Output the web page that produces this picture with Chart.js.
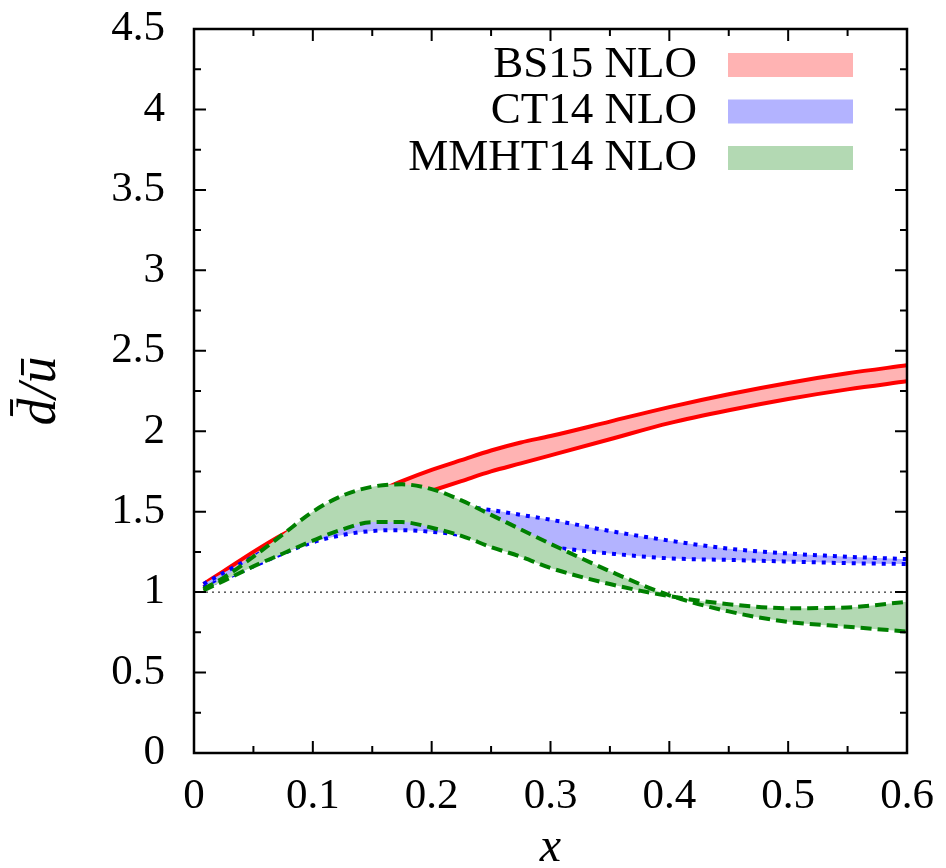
<!DOCTYPE html>
<html>
<head>
<meta charset="utf-8">
<script src="https://cdn.jsdelivr.net/npm/chart.js@4.4.1/dist/chart.umd.min.js"></script>
<style>
  body { margin: 0; background: #fff; }
  #wrap { width: 946px; height: 868px; }
</style>
</head>
<body>
<div id="wrap"><canvas id="ratio"></canvas></div>
<script>
// x grid shared by all bands
const xs = [0.008, 0.025, 0.05, 0.075, 0.1, 0.125, 0.15, 0.175, 0.2, 0.225, 0.25, 0.275, 0.3, 0.35, 0.4, 0.45, 0.5, 0.55, 0.6];

// BS15 NLO band
const bsHi = [1.05, 1.13, 1.25, 1.36, 1.45, 1.53, 1.61, 1.69, 1.76, 1.82, 1.88, 1.93, 1.97, 2.06, 2.15, 2.23, 2.30, 2.36, 2.41];
const bsLo = [1.03, 1.10, 1.19, 1.28, 1.36, 1.43, 1.50, 1.57, 1.63, 1.69, 1.75, 1.80, 1.85, 1.95, 2.05, 2.13, 2.20, 2.26, 2.31];

// CT14 NLO band
const ctHi = [1.05, 1.12, 1.22, 1.32, 1.40, 1.46, 1.51, 1.54, 1.55, 1.535, 1.51, 1.48, 1.45, 1.38, 1.32, 1.27, 1.24, 1.22, 1.205];
const ctLo = [1.03, 1.08, 1.16, 1.24, 1.31, 1.355, 1.38, 1.385, 1.375, 1.355, 1.33, 1.305, 1.28, 1.24, 1.21, 1.20, 1.19, 1.18, 1.175];

// MMHT14 NLO band (the two edges cross near x = 0.41)
const mmA = [1.02, 1.09, 1.22, 1.36, 1.50, 1.60, 1.655, 1.67, 1.64, 1.57, 1.48, 1.39, 1.30, 1.13, 0.98, 0.88, 0.815, 0.785, 0.755];
const mmB = [1.01, 1.07, 1.16, 1.24, 1.32, 1.39, 1.435, 1.435, 1.40, 1.35, 1.28, 1.22, 1.15, 1.05, 0.975, 0.925, 0.90, 0.905, 0.94];

// reference line d/u = 1
const unityX = [0, 0.6];
const unityY = [1, 1];

const legendLabels = ['BS15 NLO', 'CT14 NLO', 'MMHT14 NLO'];
const legendColors = ['#ffb3b3', '#b3b3ff', '#b3d9b3'];

const xTickValues = [0, 0.1, 0.2, 0.3, 0.4, 0.5, 0.6];
const yTickValues = [0, 0.5, 1, 1.5, 2, 2.5, 3, 3.5, 4, 4.5];

const FONT = "'Liberation Serif', 'DejaVu Serif', serif";

function pts(xv, yv) {
  return xv.map((x, i) => ({ x: x, y: yv[i] }));
}

function edge(yv, color, dash, fill) {
  return {
    data: pts(xs, yv),
    borderColor: color,
    borderWidth: 4,
    borderDash: dash,
    borderCapStyle: 'butt',
    pointRadius: 0,
    cubicInterpolationMode: 'monotone',
    fill: fill ? '-1' : false,
    backgroundColor: fill || 'transparent'
  };
}

// inward ticks on all four sides + frame + legend
const frameTicks = {
  id: 'frameTicks',
  afterDatasetsDraw(chart) {
    const { ctx, chartArea: a, scales: { x, y } } = chart;
    ctx.save();
    ctx.strokeStyle = '#000';
    ctx.lineWidth = 2;
    ctx.beginPath();
    for (let i = 0; i <= 12; i++) {
      const px = x.getPixelForValue(i * 0.05);
      const len = i % 2 === 0 ? 12 : 7;
      ctx.moveTo(px, a.bottom); ctx.lineTo(px, a.bottom - len);
      ctx.moveTo(px, a.top); ctx.lineTo(px, a.top + len);
    }
    for (let i = 0; i <= 18; i++) {
      const py = y.getPixelForValue(i * 0.25);
      const len = i % 2 === 0 ? 12 : 7;
      ctx.moveTo(a.left, py); ctx.lineTo(a.left + len, py);
      ctx.moveTo(a.right, py); ctx.lineTo(a.right - len, py);
    }
    ctx.stroke();
    ctx.lineWidth = 2.5;
    ctx.strokeRect(a.left, a.top, a.right - a.left, a.bottom - a.top);

    // legend
    ctx.font = '45px ' + FONT;
    ctx.textAlign = 'right';
    ctx.textBaseline = 'middle';
    legendLabels.forEach((lab, i) => {
      const cy = 65 + i * 46.5;
      ctx.fillStyle = '#000';
      ctx.fillText(lab, 697, cy);
      ctx.fillStyle = legendColors[i];
      ctx.fillRect(728, cy - 12, 125, 24);
    });
    ctx.restore();
  }
};

new Chart(document.getElementById('ratio'), {
  type: 'line',
  data: {
    datasets: [
      edge(mmA, '#008000', [11, 6], null),
      edge(mmB, '#008000', [11, 6], legendColors[2]),
      edge(ctHi, '#0000ff', [4, 6], null),
      edge(ctLo, '#0000ff', [4, 6], legendColors[1]),
      edge(bsHi, '#ff0000', [], null),
      edge(bsLo, '#ff0000', [], legendColors[0]),
      {
        data: pts(unityX, unityY),
        borderColor: '#000',
        borderWidth: 1,
        borderDash: [2, 4],
        pointRadius: 0,
        fill: false
      }
    ]
  },
  options: {
    responsive: true,
    maintainAspectRatio: false,
    animation: false,
    layout: { padding: { left: 0, right: 39, top: 29, bottom: 0 } },
    plugins: {
      legend: { display: false },
      tooltip: { enabled: false }
    },
    scales: {
      x: {
        type: 'linear',
        min: 0,
        max: 0.6,
        afterBuildTicks: s => { s.ticks = xTickValues.map(v => ({ value: v })); },
        afterFit: s => { s.height = 115; s.paddingLeft = 0; s.paddingRight = 0; },
        grid: { display: false, drawTicks: false },
        border: { display: false },
        ticks: { color: '#000', font: { family: FONT, size: 43 }, padding: 18, maxRotation: 0,
                 callback: v => String(v) },
        title: {
          display: true,
          text: 'x',
          color: '#000',
          font: { family: FONT, size: 48, style: 'italic', lineHeight: 0.8 },
          padding: { top: 0, bottom: 0 }
        }
      },
      y: {
        type: 'linear',
        min: 0,
        max: 4.5,
        afterBuildTicks: s => { s.ticks = yTickValues.map(v => ({ value: v })); },
        afterFit: s => { s.width = 194; s.paddingTop = 0; s.paddingBottom = 0; },
        grid: { display: false, drawTicks: false },
        border: { display: false },
        ticks: { color: '#000', font: { family: FONT, size: 43 }, padding: 29,
                 callback: v => String(v) },
        title: {
          display: true,
          text: 'd\u0304/\u016b',
          color: '#000',
          font: { family: FONT, size: 54, style: 'italic' },
          padding: { top: 8, bottom: 0 }
        }
      }
    }
  },
  plugins: [frameTicks]
});
</script>
</body>
</html>
